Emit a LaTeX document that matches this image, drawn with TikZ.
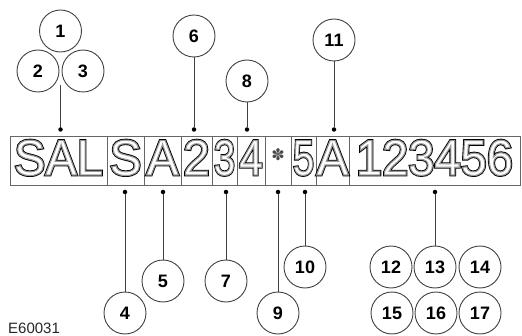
\documentclass[tikz,border=0pt]{standalone}
\usepackage{fontspec}
\setmainfont{Liberation Sans}
\newfontfamily\symfont{DejaVu Sans}
\definecolor{linegray}{gray}{0.25}
\definecolor{boxgray}{gray}{0.4}
\newcommand\outl[1]{\rlap{\color{white}\special{pdf:literal direct 2 Tr 2.8 w 0 G}#1}\color{white}\special{pdf:literal direct 2 Tr 1.1 w 0.6 G}#1\special{pdf:literal direct 0 Tr}}
\tikzset{
  num/.style={circle, draw=linegray, line width=0.9pt, minimum size=42pt, inner sep=0pt,
    font=\fontsize{18}{18}\selectfont\bfseries},
  dot/.style={circle, fill=black, inner sep=0pt, minimum size=4.5pt},
  lead/.style={draw=linegray, line width=0.9pt},
  cell/.style={draw=boxgray, line width=0.8pt, minimum height=49pt, inner sep=0pt},
  big/.style={anchor=base, inner sep=0pt, text=white, font=\fontsize{48}{48}\selectfont},
}
\begin{document}
\begin{tikzpicture}[x=1pt,y=1pt]
\useasboundingbox (0,0) rectangle (522,335);
% cells
\node[cell, minimum width=97pt] (c1) at (58.5,174.5) {};
\node[cell, minimum width=37pt] (c2) at (125.5,174.5) {};
\node[cell, minimum width=37pt] (c3) at (162.5,174.5) {};
\node[cell, minimum width=31pt] (c4) at (196.5,174.5) {};
\node[cell, minimum width=25pt] (c5) at (224.5,174.5) {};
\node[cell, minimum width=28pt] (c6) at (251,174.5) {};
\node[cell, minimum width=26pt] (c7) at (278,174.5) {};
\node[cell, minimum width=25pt] (c8) at (303.5,174.5) {};
\node[cell, minimum width=33pt] (c9) at (332.5,174.5) {};
\node[cell, minimum width=171pt] (c10) at (434.5,174.5) {};
% characters
\node[big] (t1) at (58.5,160) {\scalebox{0.98}[1.04]{\outl{SAL}}};
\node[big] (t2) at (125.5,160) {\scalebox{1}[1.04]{\outl{S}}};
\node[big] (t3) at (162.5,160) {\scalebox{1}[1.04]{\outl{A}}};
\node[big] (t4) at (196.5,160) {\scalebox{1}[1.04]{\outl{2}}};
\node[big] (t5) at (224.5,160) {\scalebox{0.8}[1.04]{\outl{3}}};
\node[big] (t6) at (251,160) {\scalebox{0.88}[1.04]{\outl{4}}};
\node[inner sep=0pt, text=gray!60!black, font=\symfont\fontsize{16}{16}\selectfont] (t7) at (278,180) {✽};
\node[big] (t8) at (303.5,160) {\scalebox{0.8}[1.04]{\outl{5}}};
\node[big] (t9) at (332.5,160) {\scalebox{1}[1.04]{\outl{A}}};
\node[big] (t10) at (434.5,160) {\scalebox{0.98}[1.04]{\outl{123456}}};
% dots
\node[dot] (d1) at (60.5,205.5) {};
\node[dot] (d6) at (194,205.5) {};
\node[dot] (d8) at (247,205.5) {};
\node[dot] (d11) at (334,205.5) {};
\node[dot] (d4) at (125,143) {};
\node[dot] (d5) at (163,143) {};
\node[dot] (d7) at (226,143) {};
\node[dot] (d9) at (278,143) {};
\node[dot] (d10) at (305,143) {};
\node[dot] (d13) at (435,143) {};
% numbered circles
\node[num] (n1) at (60.5,304) {1};
\node[num] (n2) at (38,264) {2};
\node[num] (n3) at (83,264) {3};
\node[num] (n6) at (194,299) {6};
\node[num] (n8) at (247,254) {8};
\node[num] (n11) at (334,295) {11};
\node[num] (n4) at (125,22) {4};
\node[num] (n5) at (163,54) {5};
\node[num] (n7) at (226,54) {7};
\node[num] (n9) at (278,22) {9};
\node[num] (n10) at (305,68) {10};
\node[num] (n12) at (391,68) {12};
\node[num] (n13) at (435,68) {13};
\node[num] (n14) at (480,68) {14};
\node[num] (n15) at (392,22) {15};
\node[num] (n16) at (436,22) {16};
\node[num] (n17) at (480,22) {17};
% leaders
\coordinate (j1) at (60.5,250);
\draw[lead] (j1) -- (d1);
\draw[lead] (n6) -- (d6);
\draw[lead] (n8) -- (d8);
\draw[lead] (n11) -- (d11);
\draw[lead] (n4) -- (d4);
\draw[lead] (n5) -- (d5);
\draw[lead] (n7) -- (d7);
\draw[lead] (n9) -- (d9);
\draw[lead] (n10) -- (d10);
\draw[lead] (n13) -- (d13);
% figure code
\node[anchor=base west, inner sep=0pt, text=gray!30!black, font=\fontsize{15}{15}\selectfont] (code) at (8,2) {E60031};
\end{tikzpicture}
\end{document}
